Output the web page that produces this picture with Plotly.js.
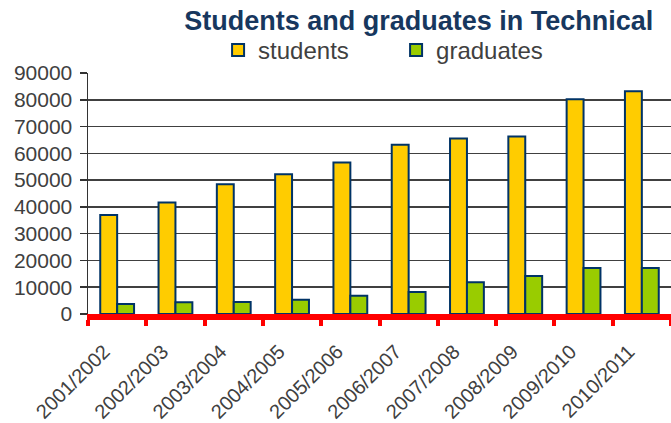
<!DOCTYPE html>
<html><head><meta charset="utf-8">
<script src="https://cdn.plot.ly/plotly-3.0.1.min.js"></script>
<style>html,body{margin:0;padding:0;background:#fff}#chart{width:671px;height:423px}</style>
</head><body><div id="chart"></div>
<script>
var years = ["2001/2002","2002/2003","2003/2004","2004/2005","2005/2006","2006/2007","2007/2008","2008/2009","2009/2010","2010/2011"];
var students = [37000, 41600, 48500, 52200, 56600, 63200, 65500, 66300, 80200, 83200];
var graduates = [3700, 4400, 4500, 5300, 6800, 8200, 11900, 14200, 17200, 17200];

var font = "Liberation Sans, Arial, sans-serif";
var traces = [
  {type:"bar", name:"students", x:years, y:students,
   marker:{color:"#FFCC00", line:{color:"#003366", width:2}}},
  {type:"bar", name:"graduates", x:years, y:graduates,
   marker:{color:"#99CC00", line:{color:"#003366", width:2}}}
];
var layout = {
  width:671, height:423,
  margin:{l:88, r:0, t:73, b:109},
  paper_bgcolor:"#fff", plot_bgcolor:"#fff",
  barmode:"group", bargap:0.42, bargroupgap:0,
  font:{family:font, color:"#404040"},
  title:{text:"<b>Students and graduates in Technical</b>", font:{family:font, size:27, color:"#17375E"},
         xref:"container", yref:"container", x:0.624, xanchor:"center", y:0.951, yanchor:"middle"},
  showlegend:true,
  legend:{orientation:"h", xref:"container", yref:"container", x:0.325, xanchor:"left", y:0.881, yanchor:"middle",
          font:{family:font, size:24, color:"#404040"}, entrywidth:133, itemwidth:30, bgcolor:"rgba(0,0,0,0)"},
  xaxis:{type:"category", showline:true, linecolor:"#FF0000", linewidth:6,
         ticks:"outside", tickson:"boundaries", ticklen:6, tickwidth:4, tickcolor:"#FF0000",
         tickangle:-45, ticklabelstandoff:12, ticklabelshift:-13,
         tickfont:{family:font, size:20, color:"#404040"}, showgrid:false, zeroline:false},
  yaxis:{range:[0,90000], dtick:10000, showline:true, linecolor:"#333", linewidth:1.5,
         ticks:"outside", ticklen:7, tickwidth:1.5, tickcolor:"#333", ticklabelstandoff:3,
         showgrid:true, gridcolor:"#404040", gridwidth:1.5, zeroline:false,
         tickfont:{family:font, size:21, color:"#404040"}, tickformat:"d"}
};
Plotly.newPlot("chart", traces, layout, {displayModeBar:false, staticPlot:true});
</script></body></html>
